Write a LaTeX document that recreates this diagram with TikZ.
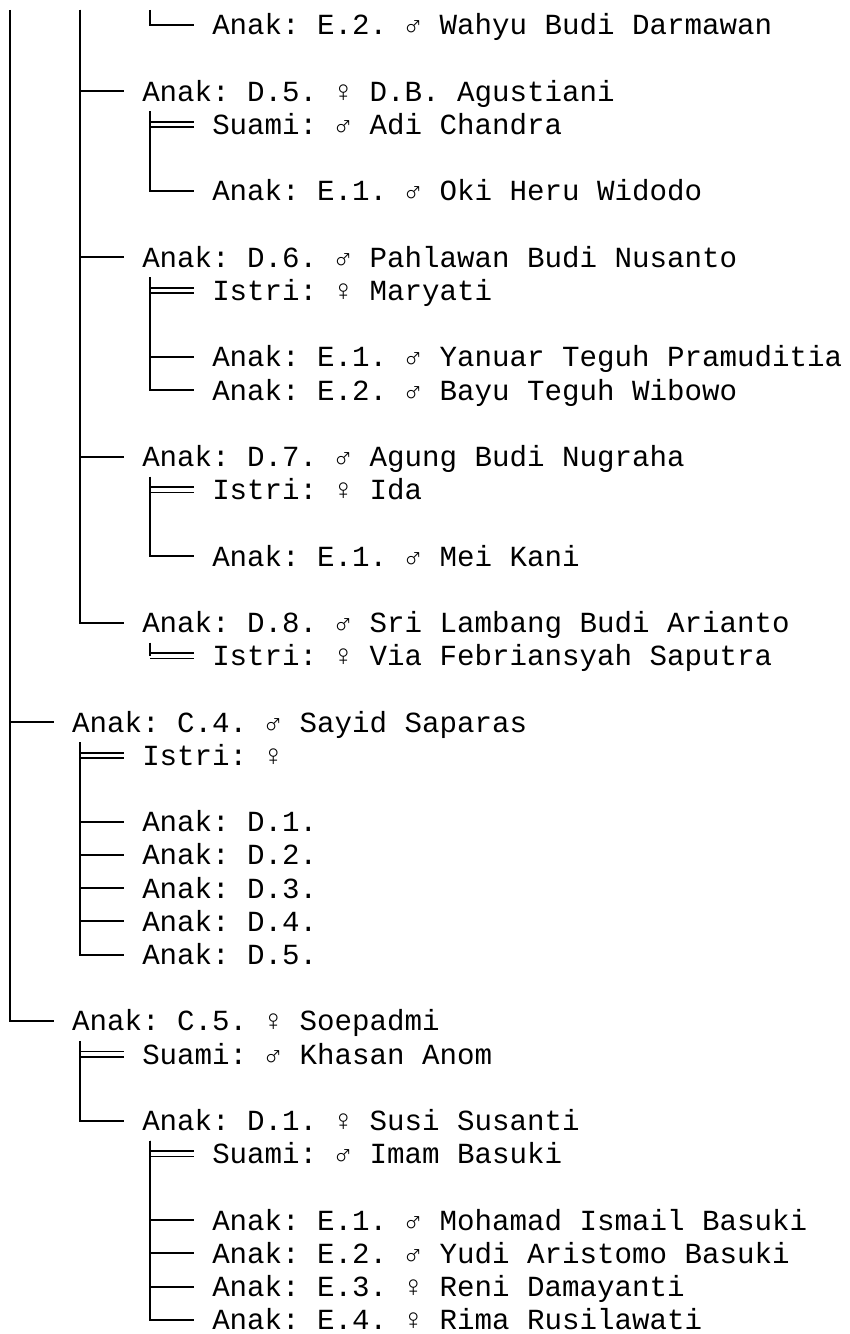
\documentclass[tikz,border=0pt]{standalone}
\usepackage{fontspec}
\newfontfamily\treefont{Liberation Mono}
\begin{document}
\begin{tikzpicture}[x=8.75pt,y=-16.6pt,line width=1pt,
	member/.style={anchor=base west,inner sep=0pt,text height=12pt,text depth=2pt,
		font=\treefont\fontsize{14.58pt}{16.6pt}\selectfont\frenchspacing},
	wed/.style={double,double distance=1.8pt,line width=0.8pt}]
	\useasboundingbox (-0.0714,-1.054) rectangle (48.5,39.127);
	% bars coming from above
	\coordinate (topC) at (0.5,-0.753);
	\coordinate (topD) at (4.5,-0.753);
	\coordinate (topE) at (8.5,-0.753);
	% generation D under C.3
	\node[member] (e2w) at (12,0) {Anak: E.2. ♂ Wahyu Budi Darmawan};
	\node[member] (d5) at (8,2) {Anak: D.5. ♀ D.B. Agustiani};
	\node[member] (d5s) at (12,3) {Suami: ♂ Adi Chandra};
	\node[member] (d5e1) at (12,5) {Anak: E.1. ♂ Oki Heru Widodo};
	\node[member] (d6) at (8,7) {Anak: D.6. ♂ Pahlawan Budi Nusanto};
	\node[member] (d6s) at (12,8) {Istri: ♀ Maryati};
	\node[member] (d6e1) at (12,10) {Anak: E.1. ♂ Yanuar Teguh Pramuditia};
	\node[member] (d6e2) at (12,11) {Anak: E.2. ♂ Bayu Teguh Wibowo};
	\node[member] (d7) at (8,13) {Anak: D.7. ♂ Agung Budi Nugraha};
	\node[member] (d7s) at (12,14) {Istri: ♀ Ida};
	\node[member] (d7e1) at (12,16) {Anak: E.1. ♂ Mei Kani};
	\node[member] (d8) at (8,18) {Anak: D.8. ♂ Sri Lambang Budi Arianto};
	\node[member] (d8s) at (12,19) {Istri: ♀ Via Febriansyah Saputra};
	% C.4
	\node[member] (c4) at (4,21) {Anak: C.4. ♂ Sayid Saparas};
	\node[member] (c4s) at (8,22) {Istri: ♀};
	\foreach \i in {1,...,5}
		\node[member] (c4d\i) at (8,23+\i) {Anak: D.\i.};
	% C.5
	\node[member] (c5) at (4,30) {Anak: C.5. ♀ Soepadmi};
	\node[member] (c5s) at (8,31) {Suami: ♂ Khasan Anom};
	\node[member] (c5d1) at (8,33) {Anak: D.1. ♀ Susi Susanti};
	\node[member] (c5d1s) at (12,34) {Suami: ♂ Imam Basuki};
	\node[member] (c5e1) at (12,36) {Anak: E.1. ♂ Mohamad Ismail Basuki};
	\node[member] (c5e2) at (12,37) {Anak: E.2. ♂ Yudi Aristomo Basuki};
	\node[member] (c5e3) at (12,38) {Anak: E.3. ♀ Reni Damayanti};
	\node[member] (c5e4) at (12,39) {Anak: E.4. ♀ Rima Rusilawati};
	% bars under each parent
	\foreach \p in {d5,d6,d7,d8,c4,c5,c5d1}
		\coordinate (\p bar) at ([xshift=4.375pt,yshift=-2.5pt]\p.south west);
	% spouses
	\draw[wed] (d5bar |- d5s.west) -- ([xshift=-8.75pt]d5s.west);
	\draw[wed] (d6bar |- d6s.west) -- ([xshift=-8.75pt]d6s.west);
	\draw[wed] (d7bar |- d7s.west) -- ([xshift=-8.75pt]d7s.west);
	\draw[wed] (d8bar |- d8s.west) -- ([xshift=-8.75pt]d8s.west);
	\draw[wed] (c4bar |- c4s.west) -- ([xshift=-8.75pt]c4s.west);
	\draw[wed] (c5bar |- c5s.west) -- ([xshift=-8.75pt]c5s.west);
	\draw[wed] (c5d1bar |- c5d1s.west) -- ([xshift=-8.75pt]c5d1s.west);
	\draw (d8bar) -- (d8bar |- d8s.west);
	% children
	\draw (topC) |- ([xshift=-8.75pt]c4.west) (topC) |- ([xshift=-8.75pt]c5.west);
	\foreach \c in {d5,d6,d7,d8}
		\draw (topD) |- ([xshift=-8.75pt]\c.west);
	\draw (topE) |- ([xshift=-8.75pt]e2w.west);
	\draw (d5bar) |- ([xshift=-8.75pt]d5e1.west);
	\draw (d6bar) |- ([xshift=-8.75pt]d6e1.west) (d6bar) |- ([xshift=-8.75pt]d6e2.west);
	\draw (d7bar) |- ([xshift=-8.75pt]d7e1.west);
	\foreach \i in {1,...,5}
		\draw (c4bar) |- ([xshift=-8.75pt]c4d\i.west);
	\draw (c5bar) |- ([xshift=-8.75pt]c5d1.west);
	\foreach \i in {1,...,4}
		\draw (c5d1bar) |- ([xshift=-8.75pt]c5e\i.west);
\end{tikzpicture}
\end{document}
